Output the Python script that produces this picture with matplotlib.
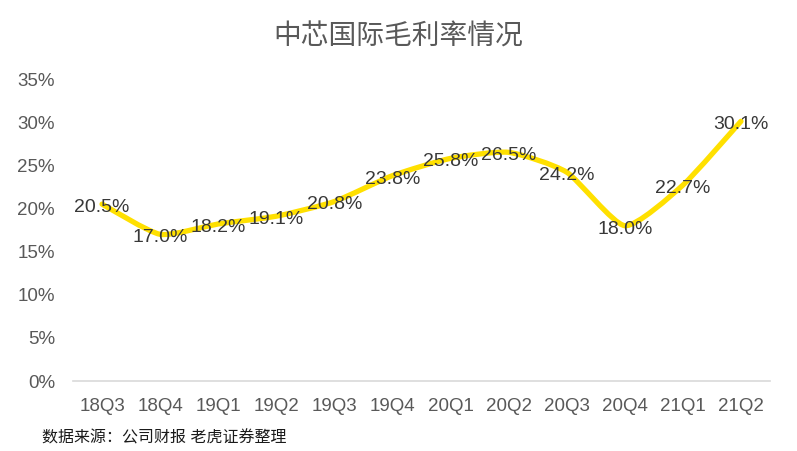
import numpy as np
import matplotlib
matplotlib.use("Agg")
import matplotlib.pyplot as plt
from matplotlib.path import Path
from matplotlib.patches import PathPatch

plt.rcParams["font.family"] = ["Liberation Sans", "Noto Sans CJK SC", "DejaVu Sans"]

quarters = ["18Q3", "18Q4", "19Q1", "19Q2", "19Q3", "19Q4",
            "20Q1", "20Q2", "20Q3", "20Q4", "21Q1", "21Q2"]
margin = [20.5, 17.0, 18.2, 19.1, 20.8, 23.8, 25.8, 26.5, 24.2, 18.0, 22.7, 30.1]
yticks = [0, 5, 10, 15, 20, 25, 30, 35]

fig = plt.figure(figsize=(7.97, 4.51), dpi=100)
ax = fig.add_axes([73 / 797, 1 - 381 / 451, 697 / 797, 302 / 451])

x = np.arange(len(quarters), dtype=float)
y = np.array(margin)

# lightly smoothed line: cubic bezier segments through the points
k = 0.1
verts = [(x[0], y[0])]
codes = [Path.MOVETO]
n = len(x)
for i in range(n - 1):
    p0 = (x[i - 1], y[i - 1]) if i > 0 else (x[i], y[i])
    p1 = (x[i], y[i])
    p2 = (x[i + 1], y[i + 1])
    p3 = (x[i + 2], y[i + 2]) if i + 2 < n else (x[i + 1], y[i + 1])
    c1 = (p1[0] + (p2[0] - p0[0]) * k, p1[1] + (p2[1] - p0[1]) * k)
    c2 = (p2[0] - (p3[0] - p1[0]) * k, p2[1] - (p3[1] - p1[1]) * k)
    verts += [c1, c2, p2]
    codes += [Path.CURVE4] * 3
ax.add_patch(PathPatch(Path(verts, codes), facecolor="none",
                       edgecolor="#FFE000", lw=3.8, capstyle="round",
                       joinstyle="round", zorder=2))

for xi, yi in zip(x, y):
    ax.annotate(f"{yi:.1f}%", (xi, yi), xytext=(0, -2.5),
                textcoords="offset points", ha="center", va="center",
                fontsize=14, color="#383838", zorder=3)

ax.set_xlim(-0.5, len(quarters) - 0.5)
ax.set_ylim(0, 35)
ax.set_yticks(yticks)
ax.set_yticklabels([f"{t}%" for t in yticks])
ax.set_xticks(x)
ax.set_xticklabels(quarters)
ax.tick_params(length=0, labelsize=13.5, colors="#595959")
ax.tick_params(axis="y", pad=13)
ax.tick_params(axis="x", pad=12)
for s in ["top", "right", "left"]:
    ax.spines[s].set_visible(False)
ax.spines["bottom"].set_color("#D9D9D9")
ax.spines["bottom"].set_linewidth(1.2)

fig.text(0.5, 1 - 38 / 451, "中芯国际毛利率情况", ha="center", va="center",
         fontsize=20, color="#595959")
fig.text(42 / 797, 1 - 438 / 451, "数据来源：公司财报 老虎证券整理", ha="left",
         va="center", fontsize=11.5, color="#1a1a1a")

fig.savefig("out.png", dpi=100)
